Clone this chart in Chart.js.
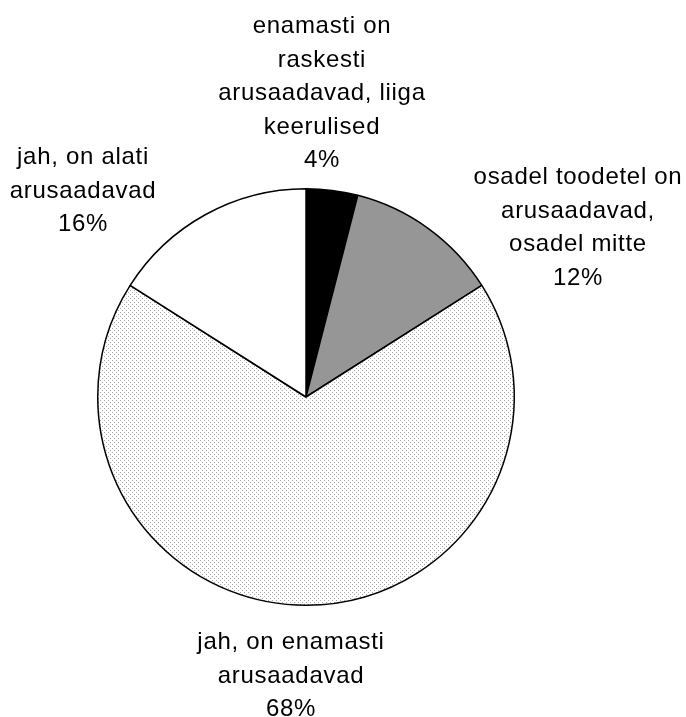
<!DOCTYPE html>
<html>
<head>
<meta charset="utf-8">
<script src="https://cdn.jsdelivr.net/npm/chart.js@4/dist/chart.umd.min.js"></script>
<style>
  html, body { margin: 0; padding: 0; background: #ffffff; }
  #wrap { width: 686px; height: 717px; }
</style>
</head>
<body>
<div id="wrap"><canvas id="c" width="686" height="717"></canvas></div>
<script>
// ---- data ----
const categories = [
  "enamasti on raskesti arusaadavad, liiga keerulised",
  "osadel toodetel on arusaadavad, osadel mitte",
  "jah, on enamasti arusaadavad",
  "jah, on alati arusaadavad"
];
const labelLines = [
  ["enamasti on", "raskesti", "arusaadavad, liiga", "keerulised"],
  ["osadel toodetel on", "arusaadavad,", "osadel mitte"],
  ["jah, on enamasti", "arusaadavad"],
  ["jah, on alati", "arusaadavad"]
];
const values = [4, 12, 68, 16];

// ---- styles ----
function dotPattern() {
  const t = document.createElement('canvas');
  t.width = 4; t.height = 4;
  const g = t.getContext('2d');
  g.fillStyle = '#ffffff';
  g.fillRect(0, 0, 4, 4);
  g.fillStyle = '#a8a8a8';
  g.fillRect(0, 0, 1, 1);
  g.fillRect(2, 2, 1, 1);
  return g.createPattern(t, 'repeat');
}
const ctx = document.getElementById('c').getContext('2d');
const fills = ['#000000', '#969696', dotPattern(), '#ffffff'];

// label block placement relative to pie centre (x offset of block centre, first baseline y offset)
const labelOffsets = [
  { dx: 16, dy: -364 },
  { dx: 272, dy: -213 },
  { dx: -15, dy: 252 },
  { dx: -223, dy: -233 }
];
const lineHeight = 33.5;

const labelPlugin = {
  id: 'pieLabels',
  afterDatasetsDraw(chart) {
    const meta = chart.getDatasetMeta(0);
    const c = chart.ctx;
    const total = values.reduce((a, b) => a + b, 0);
    c.save();
    c.font = '24px "Liberation Sans", Arial, sans-serif';
    c.fillStyle = '#000000';
    c.textAlign = 'center';
    c.textBaseline = 'alphabetic';
    if ('letterSpacing' in c) c.letterSpacing = '0.7px';
    meta.data.forEach((arc, i) => {
      const o = labelOffsets[i];
      const lines = labelLines[i].concat([Math.round(values[i] / total * 100) + '%']);
      lines.forEach((ln, k) => {
        c.fillText(ln, arc.x + o.dx, arc.y + o.dy + k * lineHeight);
      });
    });
    c.restore();
  }
};

new Chart(ctx, {
  type: 'pie',
  data: {
    labels: categories,
    datasets: [{
      data: values,
      backgroundColor: fills,
      borderColor: '#000000',
      borderWidth: 1.5,
      borderAlign: 'center'
    }]
  },
  options: {
    responsive: false,
    animation: false,
    layout: { padding: { left: 97, right: 171, top: 188, bottom: 111 } },
    plugins: {
      legend: { display: false },
      tooltip: { enabled: false }
    }
  },
  plugins: [labelPlugin]
});
</script>
</body>
</html>
